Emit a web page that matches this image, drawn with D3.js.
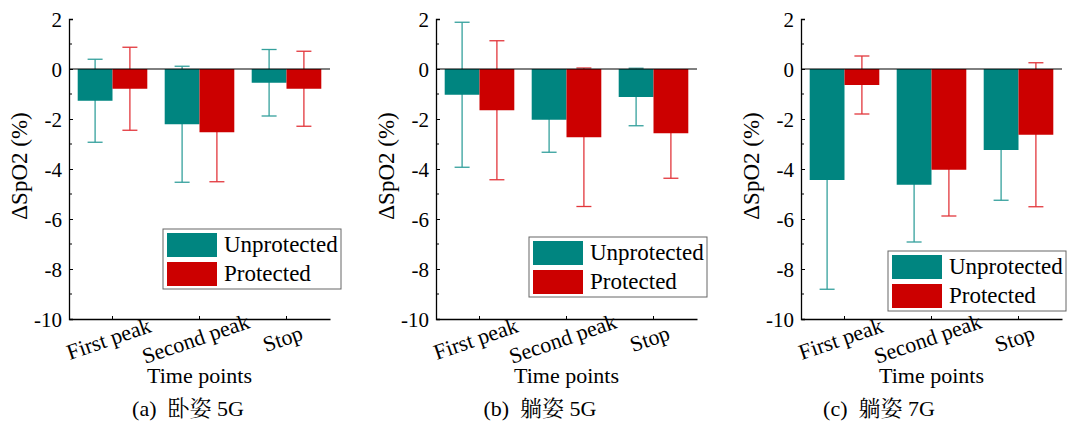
<!DOCTYPE html>
<html>
<head>
<meta charset="utf-8">
<script src="https://cdn.jsdelivr.net/npm/d3@7"></script>
<style>
  body { margin: 0; background: #fff; }
  svg text { font-family: "Times New Roman", "Liberation Serif", "DejaVu Serif", serif; fill: #000; }
  svg text.cap { font-family: "Times New Roman", "Liberation Serif", "Noto Serif CJK SC", "Noto Sans CJK SC", serif; }
</style>
</head>
<body>
<script>
// data
const categories = ["First peak", "Second peak", "Stop"];
const seriesNames = ["Unprotected", "Protected"];
const yTicks = [2, 0, -2, -4, -6, -8, -10];
const captions = ["(a)  卧姿 5G", "(b)  躺姿 5G", "(c)  躺姿 7G"];

const unprotA = [-1.27, -2.21, -0.55], unprotSdA = [1.66, 2.32, 1.33];
const protA   = [-0.79, -2.53, -0.79], protSdA   = [1.66, 1.98, 1.50];
const unprotB = [-1.03, -2.03, -1.12], unprotSdB = [2.90, 1.30, 1.15];
const protB   = [-1.65, -2.73, -2.57], protSdB   = [2.78, 2.77, 1.80];
const unprotC = [-4.44, -4.63, -3.24], unprotSdC = [4.37, 2.29, 2.01];
const protC   = [-0.64, -4.03, -2.63], protSdC   = [1.16, 1.85, 2.88];

const panelData = [
  [[unprotA, unprotSdA], [protA, protSdA]],
  [[unprotB, unprotSdB], [protB, protSdB]],
  [[unprotC, unprotSdC], [protC, protSdC]]
];

// layout
const W = 1067, H = 426;
const panels = [
  {x0: 69, x1: 330, cap: 188, leg: [163, 229]},
  {x0: 436, x1: 697, cap: 540, leg: [529, 237]},
  {x0: 801, x1: 1062, cap: 879, leg: [888, 251]}
];
const barColors = ["#008580", "#cc0000"];
const errColors = ["#34a09c", "#e2363b"];

const svg = d3.select("body").append("svg")
    .attr("width", W)
    .attr("height", H);

const y = d3.scaleLinear().domain([-10, 2]).range([319, 19]);

panels.forEach(function(p, pi) {
    const g = svg.append("g");

    const x0 = d3.scaleBand().domain(categories).range([p.x0, p.x1])
        .paddingInner(0.2).paddingOuter(0.1);
    const x1 = d3.scaleBand().domain(seriesNames).range([0, x0.bandwidth()]);

    const rows = [];
    categories.forEach(function(c, ci) {
        seriesNames.forEach(function(s, si) {
            rows.push({cat: c, s: s, si: si,
                       v: panelData[pi][si][0][ci], sd: panelData[pi][si][1][ci]});
        });
    });

    // error bars first so the bars hide the inner half
    const eb = g.selectAll(".err").data(rows).enter().append("g")
        .attr("stroke", function(d) { return errColors[d.si]; })
        .attr("stroke-width", 1.3);
    const cx = function(d) { return x0(d.cat) + x1(d.s) + x1.bandwidth() / 2; };
    eb.append("line")
        .attr("x1", cx).attr("x2", cx)
        .attr("y1", function(d) { return y(d.v + d.sd); })
        .attr("y2", function(d) { return y(d.v - d.sd); });
    [1, -1].forEach(function(sign) {
        eb.append("line")
            .attr("x1", function(d) { return cx(d) - 7.5; })
            .attr("x2", function(d) { return cx(d) + 7.5; })
            .attr("y1", function(d) { return y(d.v + sign * d.sd); })
            .attr("y2", function(d) { return y(d.v + sign * d.sd); });
    });

    g.selectAll(".bar").data(rows).enter().append("rect")
        .attr("x", function(d) { return x0(d.cat) + x1(d.s); })
        .attr("y", y(0))
        .attr("width", x1.bandwidth())
        .attr("height", function(d) { return y(d.v) - y(0); })
        .attr("fill", function(d) { return barColors[d.si]; });

    // zero line
    g.append("line")
        .attr("x1", p.x0).attr("x2", p.x1)
        .attr("y1", y(0)).attr("y2", y(0))
        .attr("stroke", "#000").attr("stroke-width", 1);

    // left axis
    const ya = g.append("g")
        .attr("transform", "translate(" + p.x0 + ",0)")
        .call(d3.axisLeft(y).tickValues(yTicks).tickSize(-4).tickPadding(7)
              .tickFormat(function(d) { return d; }));
    ya.attr("font-family", null);
    ya.select(".domain").attr("stroke", "#000").attr("stroke-width", 1.3);
    ya.selectAll("text").attr("font-size", "21px").attr("dy", "0.34em");
    // minor ticks
    ya.selectAll(".minor").data(d3.range(-9, 2, 2)).enter().append("line")
        .attr("x1", 0).attr("x2", 3)
        .attr("y1", function(d) { return y(d); }).attr("y2", function(d) { return y(d); })
        .attr("stroke", "#000");

    // bottom axis
    const xa = g.append("g")
        .attr("transform", "translate(0," + y(-10) + ")")
        .call(d3.axisBottom(x0).tickSize(-3).tickSizeOuter(0).tickFormat(""));
    xa.select(".domain").attr("stroke", "#000").attr("stroke-width", 1.3);

    g.selectAll(".xlab").data(categories).enter().append("text")
        .attr("transform", function(d) {
            return "translate(" + (x0(d) + x0.bandwidth() / 2 - 3) + ",341) rotate(-19)";
        })
        .attr("text-anchor", "middle")
        .attr("dominant-baseline", "middle")
        .attr("font-size", "22px")
        .text(function(d) { return d; });

    g.append("text")
        .attr("x", (p.x0 + p.x1) / 2)
        .attr("y", 383)
        .attr("text-anchor", "middle")
        .attr("font-size", "22px")
        .text("Time points");

    g.append("text")
        .attr("transform", "translate(" + (p.x0 - 42) + ",166) rotate(-90)")
        .attr("text-anchor", "middle")
        .attr("font-size", "23px")
        .text("ΔSpO2 (%)");

    g.append("text")
        .attr("class", "cap")
        .attr("x", p.cap)
        .attr("y", 416)
        .attr("text-anchor", "middle")
        .attr("font-size", "22px")
        .style("white-space", "pre")
        .text(captions[pi]);

    // legend
    const lg = g.append("g").attr("transform", "translate(" + p.leg[0] + "," + p.leg[1] + ")");
    lg.append("rect")
        .attr("width", 178).attr("height", 60)
        .attr("fill", "#fff").attr("stroke", "#666").attr("stroke-width", 1);
    seriesNames.forEach(function(s, si) {
        lg.append("rect")
            .attr("x", 4).attr("y", 4 + si * 29)
            .attr("width", 50).attr("height", 24)
            .attr("fill", barColors[si]);
        lg.append("text")
            .attr("x", 61).attr("y", 23 + si * 29)
            .attr("font-size", "23px")
            .text(s);
    });
});
</script>
</body>
</html>
